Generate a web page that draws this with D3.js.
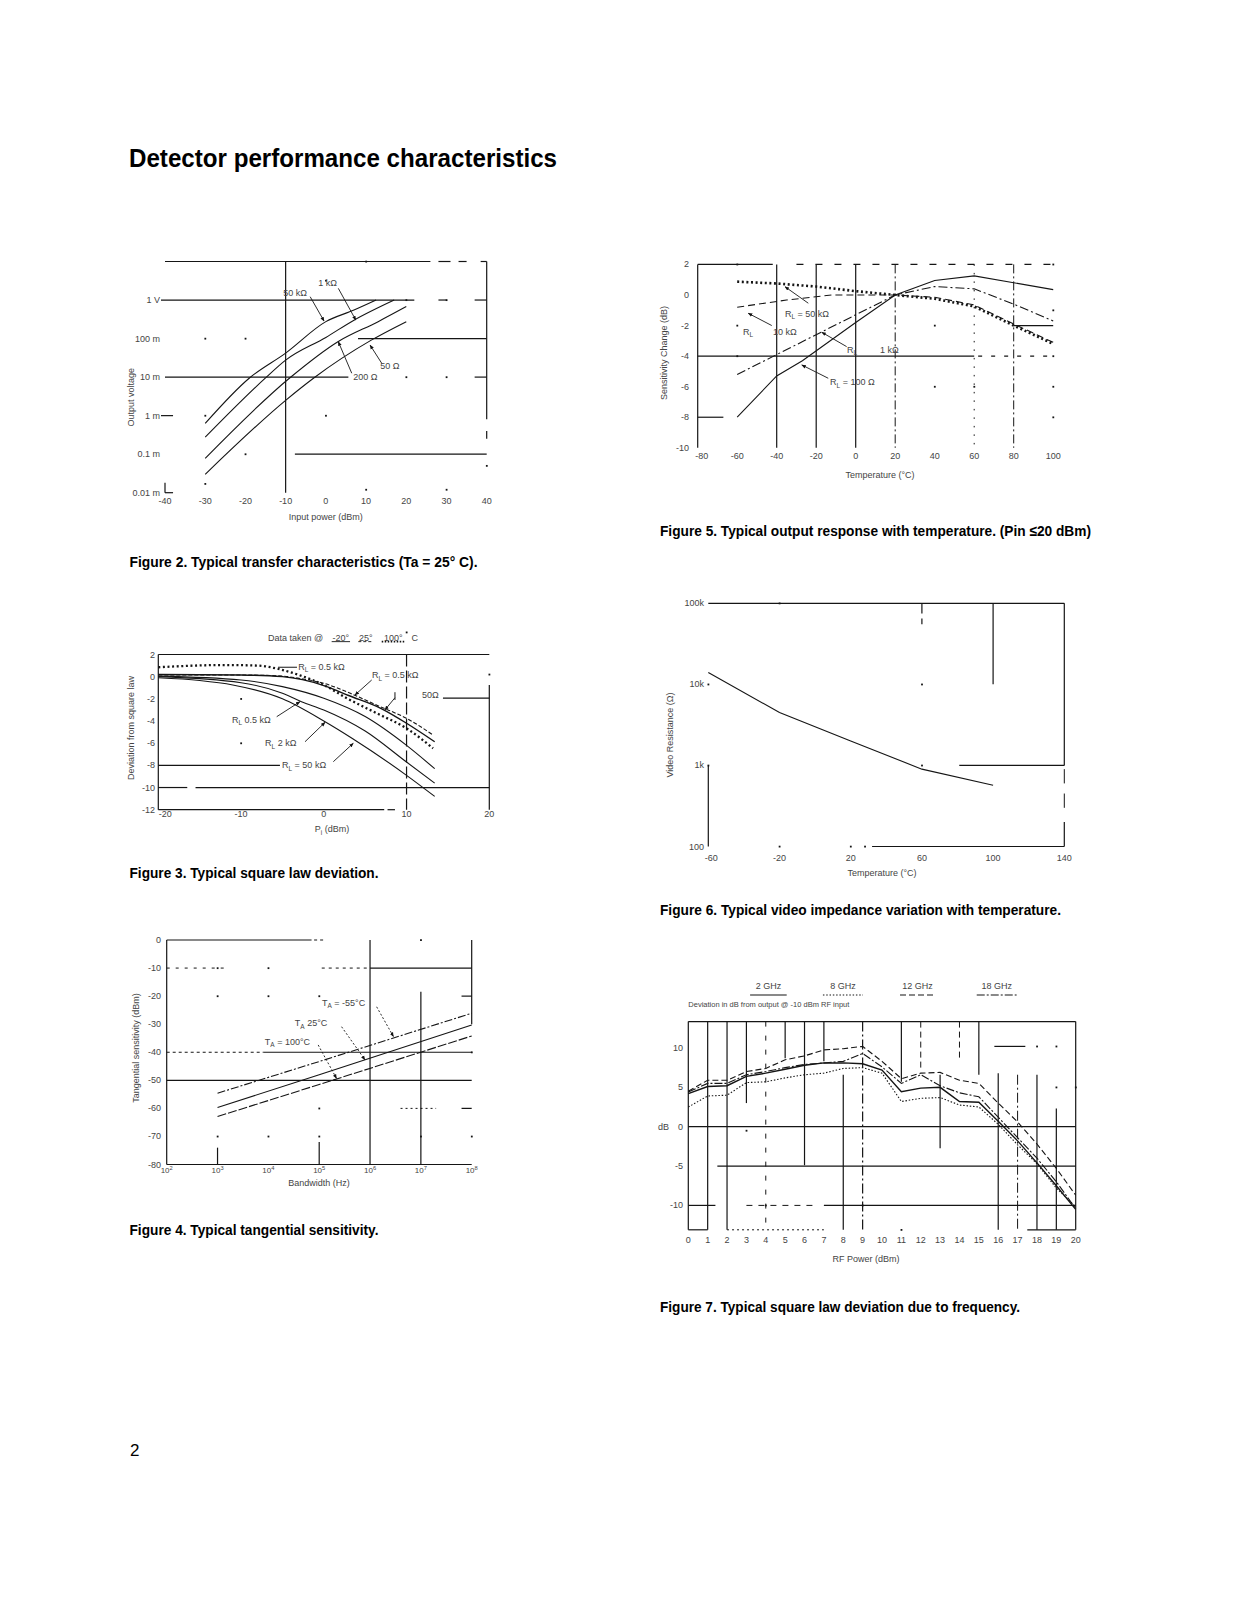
<!DOCTYPE html>
<html><head><meta charset="utf-8">
<script src="https://cdn.jsdelivr.net/npm/d3@7"></script>
<style>body{margin:0;background:#fff} svg text{font-family:"Liberation Sans",Arial,sans-serif}</style>
</head><body>
<script>
// ================= DATA =================
// Figure 2 – transfer characteristics (input dBm, output V)
const fig2XTicks = [-40,-30,-20,-10,0,10,20,30,40];
const fig2YTicks = [1,0.1,0.01,0.001,0.0001,0.00001];
const fig2YTickLabels = ["1 V","100 m","10 m","1 m","0.1 m","0.01 m"];
const fig2Curve50k = [[-30,6.3e-4],[-19,9.5e-3],[-10,0.042],[0,0.275],[7,0.55],[12.5,1.0]];
const fig2Curve1k  = [[-30,2.75e-4],[-15,9.5e-3],[-10,0.0275],[0,0.107],[7,0.30],[17,1.0]];
const fig2Curve200 = [[-30,7.8e-5],[-9,9.5e-3],[3,0.083],[13,0.275],[20,0.676]];
const fig2Curve50  = [[-30,3.0e-5],[-10,2.5e-3],[-3,9.5e-3],[11.3,0.091],[20,0.275]];

// Figure 5 – sensitivity change vs temperature
const fig5XTicks = [-80,-60,-40,-20,0,20,40,60,80,100];
const fig5YTicks = [2,0,-2,-4,-6,-8,-10];
const fig5R100  = [[-60,-8],[-40,-5.3],[-27,-4.3],[0,-1.8],[20,0],[40,0.95],[60,1.25],[100,0.35]];
const fig5R1k   = [[-60,-5.2],[-40,-3.9],[-20,-2.6],[0,-1.3],[20,0],[40,0.55],[60,0.4],[80,-0.6],[100,-1.7]];
const fig5R10k  = [[-60,-0.8],[-35,-0.33],[-12,0],[20,0],[40,-0.15],[60,-0.65],[80,-1.9],[100,-3.1]];
const fig5R50k  = [[-60,0.87],[-40,0.75],[-20,0.55],[0,0.25],[20,0],[40,-0.25],[60,-0.75],[80,-2.0],[100,-3.2]];

// Figure 3 – square law deviation
const fig3XTicks = [-20,-10,0,10,20];
const fig3YTicks = [2,0,-2,-4,-6,-8,-10,-12];
const fig3Dashed = [[-20,0.15],[-10,0.15],[-5,0.05],[-3,-0.15],[0,-0.6],[3.2,-1.5],[6.8,-2.7],[10,-3.76],[13.2,-5.26]];
const fig3Solid1 = [[-20,0.2],[-10,0.15],[-5,0],[0,-0.8],[3,-1.7],[7,-2.9],[10,-4.2],[13.4,-5.87]];
const fig3Dotted = [[-20,0.85],[-12,1.05],[-8,1.0],[-5.5,0.7],[-3,0.15],[0,-0.75],[2.8,-1.95],[6.4,-3.3],[10,-4.66],[13.2,-6.46]];
const fig3Solid2 = [[-20,0.05],[-10,-0.3],[-5,-0.9],[0,-1.95],[5,-3.6],[10,-6.2],[13.4,-8.3]];
const fig3Solid3 = [[-20,0],[-10,-0.55],[-5,-1.5],[-2.7,-2.26],[0,-3.0],[5,-4.9],[10,-7.7],[13.4,-9.6]];
const fig3Solid4 = [[-20,-0.1],[-15,-0.35],[-11,-0.75],[-5,-2.0],[0,-4.0],[3.5,-5.6],[10,-8.9],[13.4,-10.8]];

// Figure 6 – video resistance vs temperature
const fig6XTicks = [-60,-20,20,60,100,140];
const fig6YTicks = [100000,10000,1000,100];
const fig6YTickLabels = ["100k","10k","1k","100"];
const fig6Temp = [-60,-20,20,60,100];
const fig6Res  = [14000,4500,2000,900,570];

// Figure 4 – tangential sensitivity
const fig4XTicks = [1e2,1e3,1e4,1e5,1e6,1e7,1e8];
const fig4XExp = ["2","3","4","5","6","7","8"];
const fig4YTicks = [0,-10,-20,-30,-40,-50,-60,-70,-80];
const fig4BW = [1e3,1e5,1e8];
const fig4Minus55 = [-54.6,-43.3,-26.1];
const fig4At25 = [-59.7,-48.0,-30.3];
const fig4At100 = [-62.9,-51.5,-34.2];

// Figure 7 – square law deviation vs frequency
const fig7Power = [0,1,2,3,4,5,6,7,8,9,10,11,12,13,14,15,16,17,18,19,20];
const fig7YTicks = [10,5,0,-5,-10];
const fig7G2  = [4.2,5.1,5.2,6.4,6.8,7.3,7.8,8.1,8.1,8.0,7.2,4.45,4.9,5.0,3.2,3.1,0.7,-1.8,-4.6,-7.5,-10.5];
const fig7G8  = [2.5,3.9,4.0,5.6,5.7,6.2,6.6,6.8,7.4,7.5,6.8,3.2,3.6,3.7,2.75,2.5,0.3,-2.3,-4.7,-7.8,-10.2];
const fig7G12 = [4.5,5.9,5.9,7.0,7.4,8.5,9.0,9.75,9.9,10.2,8.3,6.1,6.8,6.9,5.9,5.5,3.0,0.6,-2.2,-5.3,-8.7];
const fig7G18 = [4.4,5.5,5.5,6.6,7.0,7.5,7.9,8.1,8.3,9.3,7.6,5.5,6.6,5.2,4.3,3.8,1.2,-1.4,-4.0,-7.0,-10.4];
const fig7Legend = ["2 GHz","8 GHz","12 GHz","18 GHz"];

// ================= DRAWING =================
const W=1237,H=1600;
const svg=d3.select("body").append("svg").attr("width",W).attr("height",H);
svg.append("rect").attr("width",W).attr("height",H).attr("fill","#fff");
svg.append("defs").append("marker").attr("id","ah").attr("viewBox","0 0 10 10")
  .attr("refX",9).attr("refY",5).attr("markerWidth",5).attr("markerHeight",5).attr("orient","auto")
  .append("path").attr("d","M0,1L10,5L0,9z").attr("fill","#111");
const INK="#151515", TXT="#444";
const NARROW="'Liberation Sans Narrow','Arial Narrow','Liberation Sans',sans-serif";

function L(g,x1,y1,x2,y2,o={}){
  return g.append("line").attr("x1",x1).attr("y1",y1).attr("x2",x2).attr("y2",y2)
    .attr("stroke",o.c||INK).attr("stroke-width",o.w||1.2)
    .attr("stroke-dasharray",o.dash||null).attr("marker-end",o.arrow?"url(#ah)":null);
}
function T(g,parts,x,y,o={}){
  const size=o.size||9;
  const t=g.append("text").attr("x",x).attr("y",y).attr("font-size",size)
    .attr("fill",o.c||TXT).attr("text-anchor",o.anchor||"start");
  if(o.rotate) t.attr("transform",`rotate(${o.rotate},${x},${y})`);
  if(o.weight) t.attr("font-weight",o.weight);
  if(o.family) t.style("font-family",o.family);
  if(o.len) t.attr("textLength",o.len).attr("lengthAdjust","spacingAndGlyphs");
  let cur=0;
  (typeof parts==="string"?[[parts]]:parts).forEach(p=>{
    const off=p[1]==="sub"?2.5:p[1]==="sup"?-3.5:0;
    const s=t.append("tspan").text(p[0]);
    if(off!==cur) s.attr("dy",off-cur);
    cur=off;
    if(p[1]) s.attr("font-size",size*0.72);
  });
  return t;
}
const Hl=(g,x,y,v,a,b,o={})=>L(g,x(a),y(v),x(b),y(v),o);
const Vl=(g,x,y,v,a,b,o={})=>L(g,x(v),y(a),x(v),y(b),o);
const Ar=(g,x,y,a,b,o={})=>L(g,x(a[0]),y(a[1]),x(b[0]),y(b[1]),Object.assign({w:0.9,arrow:true},o));
const dot=(g,x,y,a,b)=>g.append("rect").attr("x",x(a)-0.8).attr("y",y(b)-0.8).attr("width",1.8).attr("height",1.8).attr("fill",INK);
function curve(g,x,y,data,o={}){
  g.append("path").datum(data).attr("fill","none").attr("stroke",INK)
   .attr("stroke-width",o.w||1.1).attr("stroke-dasharray",o.dash||null)
   .attr("d",d3.line().x(d=>x(d[0])).y(d=>y(d[1])).curve(o.curve||d3.curveLinear));
}

// ---------- Title, captions ----------
T(svg,"Detector performance characteristics",129,167,{size:25,weight:"bold",family:NARROW,len:428,c:"#000"});
const cap=(s,x,y,len)=>T(svg,s,x,y,{size:15,weight:"bold",family:NARROW,len:len,c:"#000"});
cap("Figure 2. Typical transfer characteristics (Ta = 25° C).",129.5,567,348);
cap("Figure 5. Typical output response with temperature. (Pin ≤20 dBm)",660,535.5,431);
cap("Figure 3. Typical square law deviation.",129.5,877.5,249);
cap("Figure 6. Typical video impedance variation with temperature.",660,915,401);
cap("Figure 4. Typical tangential sensitivity.",129.5,1234.5,249);
cap("Figure 7. Typical square law deviation due to frequency.",660,1312,360);
T(svg,"2",130,1456,{size:17,family:NARROW,c:"#000"});

// ---------- Figure 2 ----------
{
const g=svg.append("g");
const x=d3.scaleLinear().domain([-40,40]).range([165,486.7]);
const y=d3.scaleLog().domain([1e-5,10]).range([492.7,261.5]);
Hl(g,x,y,10,-40,26); Hl(g,x,y,10,28,31); Hl(g,x,y,10,33,35);
Hl(g,x,y,1,-41,22); Hl(g,x,y,1,28,30); Hl(g,x,y,1,37,40);
Hl(g,x,y,0.1,8,40);
Hl(g,x,y,0.01,-40,5.6); Hl(g,x,y,0.01,37,40);
Hl(g,x,y,1e-4,-7.7,40);
Hl(g,x,y,1e-3,-41,-38);
Vl(g,x,y,-10,1e-5,10);
Vl(g,x,y,40,8e-4,10); Vl(g,x,y,40,2.5e-4,4e-4);
Hl(g,x,y,10,38.5,40);
Vl(g,x,y,-40,1e-5,1.8e-5); Hl(g,x,y,1e-5,-40,-38);
[[-30,0.1],[-20,0.1],[0,3.2],[10,10],[-30,1e-3],[0,1e-3],[-20,1e-4],[20,0.01],[30,0.01],[-30,1.7e-5],[30,1.2e-5],[10,1.2e-5],[20,1],[30,1],[40,5e-5]]
  .forEach(p=>dot(g,x,y,p[0],p[1]));
curve(g,x,y,fig2Curve50k,{curve:d3.curveMonotoneX});
curve(g,x,y,fig2Curve1k,{curve:d3.curveMonotoneX});
curve(g,x,y,fig2Curve200,{curve:d3.curveMonotoneX});
curve(g,x,y,fig2Curve50,{curve:d3.curveMonotoneX});
fig2XTicks.forEach(v=>T(g,String(v),x(v),504,{anchor:"middle"}));
fig2YTicks.forEach((v,i)=>T(g,fig2YTickLabels[i],160,y(v)+3,{anchor:"end"}));
T(g,"Input power (dBm)",x(0),520,{anchor:"middle"});
T(g,"Output voltage",134,y(0.003),{anchor:"middle",rotate:-90});
T(g,"50 kΩ",x(-10.6),y(1.55)+3);
Ar(g,x,y,[-3.9,1.22],[-0.45,0.285]);
T(g,"1 kΩ",x(-1.9),y(2.76)+3);
Ar(g,x,y,[3.1,2.01],[7.44,0.303]);
T(g,"200 Ω",x(6.8),y(0.0102)+3);
Ar(g,x,y,[6.44,0.0126],[3.1,0.0829]);
T(g,"50 Ω",x(13.5),y(0.0194)+3);
Ar(g,x,y,[13.9,0.0228],[11.0,0.0677]);
}

// ---------- Figure 5 ----------
{
const g=svg.append("g");
const x=d3.scaleLinear().domain([-80,100]).range([697.7,1053.2]);
const y=d3.scaleLinear().domain([-10,2]).range([447.8,264.4]);
Hl(g,x,y,2,-80,-42); Hl(g,x,y,2,-30,100,{dash:"7,12"});
Vl(g,x,y,-80,2,-10);
[-40,-20,0].forEach(v=>Vl(g,x,y,v,2,-10));
Vl(g,x,y,20,2,-10,{dash:"9,3,2,3",w:1});
Vl(g,x,y,60,2,-10,{dash:"1.5,7",w:1});
Vl(g,x,y,80,2,-10,{dash:"9,3,2,3",w:1});
Hl(g,x,y,-4,-80,60); Hl(g,x,y,-4,62,100,{dash:"4,9"});
Hl(g,x,y,-8,-80,-67);
Hl(g,x,y,-2,80,100);
[[100,2],[100,-4],[100,-6],[100,-8],[-60,2],[40,-2],[40,-6],[60,-6],[-60,-2],[-60,-4],[100,-1]].forEach(p=>dot(g,x,y,p[0],p[1]));
curve(g,x,y,fig5R100,{w:1.1});
curve(g,x,y,fig5R1k,{w:1.1,dash:"9,3,2,3"});
curve(g,x,y,fig5R10k,{w:1.1,dash:"7,4"});
curve(g,x,y,fig5R50k,{w:2.6,dash:"2,2.6"});
fig5XTicks.forEach(v=>T(g,String(v),x(v)+(v===-80?4:0),459,{anchor:"middle"}));
fig5YTicks.forEach(v=>T(g,String(v),689,y(v)+3,{anchor:"end"}));
T(g,"Temperature (°C)",880,478,{anchor:"middle"});
T(g,"Sensitivity Change (dB)",667,353,{anchor:"middle",rotate:-90});
T(g,[["R"],["L","sub"],[" = 50 kΩ"]],x(-35.8),y(-1.24)+3);
Ar(g,x,y,[-24,-0.54],[-35.8,0.54]);
T(g,[["R"],["L","sub"]],x(-57.1),y(-2.42)+3);
T(g,"10 kΩ",x(-41.9),y(-2.42)+3);
Ar(g,x,y,[-42.5,-2.0],[-54.4,-1.2]);
T(g,[["R"],["L","sub"]],x(-4.4),y(-3.6)+3);
T(g,"1 kΩ",x(12.3),y(-3.6)+3);
Ar(g,x,y,[-4.6,-3.38],[-17.2,-2.44]);
T(g,[["R"],["L","sub"],[" = 100 Ω"]],x(-13),y(-5.71)+3);
Ar(g,x,y,[-13.9,-5.45],[-27.3,-4.58]);
}

// ---------- Figure 3 ----------
{
const g=svg.append("g");
const x=d3.scaleLinear().domain([-20,20]).range([158.3,489.3]);
const y=d3.scaleLinear().domain([-12,2]).range([809.7,654.5]);
Hl(g,x,y,2,-20,20);
Vl(g,x,y,-20,2,-12);
Hl(g,x,y,-8,-20,-5.3);
Hl(g,x,y,-10,-20,-16.5); Hl(g,x,y,-10,-15.5,20);
Hl(g,x,y,-12,-20,7.3); Hl(g,x,y,-12,7.7,8.6);
Vl(g,x,y,10,2,-12,{dash:"12,4"});
Vl(g,x,y,20,-0.75,-12); dot(g,x,y,20,0.2);
Hl(g,x,y,-1.94,14.4,20);
[[-10,-2],[-10,-6],[10,4]].forEach(p=>dot(g,x,y,p[0],p[1]));
curve(g,x,y,fig3Solid4,{curve:d3.curveMonotoneX});
curve(g,x,y,fig3Solid3,{curve:d3.curveMonotoneX});
curve(g,x,y,fig3Solid2,{curve:d3.curveMonotoneX});
curve(g,x,y,fig3Solid1,{curve:d3.curveMonotoneX,w:1.4});
curve(g,x,y,fig3Dashed,{curve:d3.curveMonotoneX,dash:"4,2"});
curve(g,x,y,fig3Dotted,{curve:d3.curveMonotoneX,w:2.3,dash:"2,2.6"});
fig3XTicks.forEach(v=>T(g,String(v),x(v)+(v===-20?7:0),817,{anchor:"middle"}));
fig3YTicks.forEach(v=>T(g,String(v),155,y(v)+3,{anchor:"end"}));
T(g,[["P"],["i","sub"],[" (dBm)"]],332,832,{anchor:"middle"});
T(g,"Deviation from square law",134,728,{anchor:"middle",rotate:-90});
// legend
T(g,"Data taken @",x(-6.74),y(3.47)+3);
T(g,"-20°",x(2.06),y(3.47)+3,{anchor:"middle"}); Hl(g,x,y,3.16,0.95,3.17,{w:0.9});
T(g,"25°",x(5.07),y(3.47)+3,{anchor:"middle"}); Hl(g,x,y,3.16,4.17,5.98,{w:0.9,dash:"3,2"});
T(g,"100°",x(8.4),y(3.47)+3,{anchor:"middle"}); Hl(g,x,y,3.16,7.0,9.8,{w:1.6,dash:"1.5,1.5"});
T(g,"C",x(10.6),y(3.47)+3);
Hl(g,x,y,0.85,-5.53,-3.24,{w:1});
T(g,[["R"],["L","sub"],[" = 0.5 kΩ"]],x(-3.1),y(0.9)+3);
T(g,[["R"],["L","sub"],[" = 0.5 kΩ"]],x(5.82),y(0.15)+3);
Ar(g,x,y,[5.79,-0.3],[3.77,-1.65]);
Vl(g,x,y,8.6,-1.4,-2.1,{w:1});
Ar(g,x,y,[8.6,-1.9],[7.39,-3.0]);
T(g,"50Ω",x(11.87),y(-1.65)+3);
T(g,[["R"],["L","sub"],["  0.5 kΩ"]],x(-11.1),y(-3.9)+3);
Ar(g,x,y,[-5.69,-3.61],[-2.88,-2.26]);
T(g,[["R"],["L","sub"],["  2 kΩ"]],x(-7.1),y(-6.0)+3);
Ar(g,x,y,[-2.27,-5.87],[0.15,-4.12]);
T(g,[["R"],["L","sub"],[" = 50 kΩ"]],x(-5.05),y(-7.97)+3);
Ar(g,x,y,[1.15,-7.67],[3.56,-6.01]);
}

// ---------- Figure 6 ----------
{
const g=svg.append("g");
const x=d3.scaleLinear().domain([-60,140]).range([708.3,1064.3]);
const y=d3.scaleLog().domain([100,100000]).range([846.5,603.3]);
Hl(g,x,y,100000,-60,140);
Vl(g,x,y,140,100000,1000); Vl(g,x,y,140,900,600,{w:1}); Vl(g,x,y,140,450,300,{w:1}); Vl(g,x,y,140,200,100);
Vl(g,x,y,100,100000,10000);
Hl(g,x,y,1000,81,140);
Hl(g,x,y,100,32,140);
Vl(g,x,y,-60,1000,100);
Vl(g,x,y,60,100000,75000); Vl(g,x,y,60,65000,55000);
[[-20,100000],[60,10000],[60,1000],[-20,100],[20,100],[28,100],[-60,10000],[-60,1000]].forEach(p=>dot(g,x,y,p[0],p[1]));
curve(g,x,y,fig6Temp.map((t,i)=>[t,fig6Res[i]]),{w:1.1});
fig6XTicks.forEach(v=>T(g,String(v),x(v)+(v===-60?3:0),861,{anchor:"middle"}));
fig6YTicks.forEach((v,i)=>T(g,fig6YTickLabels[i],704,y(v)+3,{anchor:"end"}));
T(g,"Temperature (°C)",882,876,{anchor:"middle"});
T(g,"Video Resistance (Ω)",673,735,{anchor:"middle",rotate:-90});
}

// ---------- Figure 4 ----------
{
const g=svg.append("g");
const x=d3.scaleLog().domain([1e2,1e8]).range([166.7,471.7]);
const y=d3.scaleLinear().domain([-80,0]).range([1164.5,940]);
Hl(g,x,y,0,1e2,Math.pow(10,4.85)); Hl(g,x,y,0,Math.pow(10,4.9),Math.pow(10,5.1),{dash:"3,3"});
Vl(g,x,y,1e2,0,-80);
Vl(g,x,y,1e8,0,-30);
Vl(g,x,y,1e6,0,-80);
Vl(g,x,y,1e7,-18.4,-80);
Hl(g,x,y,-10,1e2,Math.pow(10,3.2),{dash:"3,6",w:1}); Hl(g,x,y,-10,Math.pow(10,5.05),1e6,{dash:"3,4",w:1}); Hl(g,x,y,-10,1e6,1e8);
Hl(g,x,y,-40,1e2,Math.pow(10,3.9),{dash:"3,3",w:1}); Hl(g,x,y,-40,Math.pow(10,3.9),1e8);
Hl(g,x,y,-50,1e2,1e8);
Hl(g,x,y,-80,1e2,1e8);
Vl(g,x,y,1e3,-74,-80); Vl(g,x,y,1e5,-72,-80);
Hl(g,x,y,-20,Math.pow(10,7.8),1e8);
Hl(g,x,y,-60,Math.pow(10,6.6),Math.pow(10,7.3),{dash:"2,3",w:1}); Hl(g,x,y,-60,Math.pow(10,7.8),1e8);
[[1e3,-10],[1e4,-10],[1e3,-20],[1e4,-20],[1e5,-60],[1e3,-70],[1e4,-70],[1e5,-70],[1e7,-70],[1e8,-70],[1e8,-40],[1e7,0],[1e5,-20]].forEach(p=>dot(g,x,y,p[0],p[1]));
curve(g,x,y,fig4BW.map((b,i)=>[b,fig4Minus55[i]]),{dash:"8,2,2,2"});
curve(g,x,y,fig4BW.map((b,i)=>[b,fig4At25[i]]));
curve(g,x,y,fig4BW.map((b,i)=>[b,fig4At100[i]]),{dash:"9,2"});
fig4XTicks.forEach((v,i)=>T(g,[["10"],[fig4XExp[i],"sup"]],x(v),1173,{anchor:"middle",size:8}));
fig4YTicks.forEach(v=>T(g,String(v),161,y(v)+3,{anchor:"end"}));
T(g,"Bandwidth (Hz)",319,1186,{anchor:"middle"});
T(g,"Tangential sensitivity (dBm)",139,1048,{anchor:"middle",rotate:-90});
T(g,[["T"],["A","sub"],[" = -55°C"]],x(Math.pow(10,5.055)),y(-22.4)+3);
Ar(g,x,y,[Math.pow(10,6.13),-23.8],[Math.pow(10,6.46),-34.4],{dash:"2,2"});
T(g,[["T"],["A","sub"],["  25°C"]],x(Math.pow(10,4.52)),y(-29.6)+3);
Ar(g,x,y,[Math.pow(10,5.44),-30.9],[Math.pow(10,5.9),-42.7],{dash:"2,2"});
T(g,[["T"],["A","sub"],[" = 100°C"]],x(Math.pow(10,3.93)),y(-36.2)+3);
Ar(g,x,y,[Math.pow(10,4.98),-37.4],[Math.pow(10,5.34),-49.3],{dash:"2,2"});
}

// ---------- Figure 7 ----------
{
const g=svg.append("g");
const x=d3.scaleLinear().domain([0,20]).range([688.3,1075.7]);
const y=d3.scaleLinear().domain([-13.1,13.35]).range([1229.8,1021.6]);
const top=13.35, bot=-13.1;
Hl(g,x,y,top,0,20);
Vl(g,x,y,0,top,bot);
Hl(g,x,y,0,0,20);
Hl(g,x,y,-5,1.5,20);
Hl(g,x,y,-10,0,1.4); Hl(g,x,y,-10,3,6.5,{dash:"6,6",w:1}); Hl(g,x,y,-10,7,20);
Hl(g,x,y,bot,0,1); Hl(g,x,y,bot,2,7,{dash:"2,3",w:1}); Hl(g,x,y,bot,17.5,20);
const vs=[[1,top,bot],[2,top,bot],[3,top,3],[5,top,8.7],[6,top,-4.9],[7,top,8.3],[8,6.6,bot],[11,top,5.7],[13,6.6,-2.75],[15,top,6.6],[16,6.8,bot],[18,6.6,bot],[19,2.3,bot],[20,top,bot]];
vs.forEach(v=>Vl(g,x,y,v[0],v[1],v[2]));
Vl(g,x,y,4,top,bot,{dash:"5,9",w:1});
Vl(g,x,y,9,top,bot,{dash:"10,3,2,3"});
Vl(g,x,y,12,top,7,{dash:"6,4",w:1});
Vl(g,x,y,14,top,8.7,{dash:"6,4",w:1});
Vl(g,x,y,17,6.6,bot,{dash:"10,3,2,3",w:1});
Hl(g,x,y,10.2,15.8,17.4);
[[18,10.2],[19,10.2],[3,-0.5],[19,5],[20,5],[4,-10],[9,-10],[11,-13.1]].forEach(p=>dot(g,x,y,p[0],p[1]));
const pts=a=>fig7Power.map((p,i)=>[p,a[i]]);
curve(g,x,y,pts(fig7G8),{dash:"1.5,1.8"});
curve(g,x,y,pts(fig7G18),{dash:"8,2,2,2"});
curve(g,x,y,pts(fig7G12),{dash:"6,3"});
curve(g,x,y,pts(fig7G2),{w:1.4});
// legend
const lx=[[3.19,5.08],[6.95,9.02],[10.93,12.74],[14.89,16.95]];
const ld=[null,"1.5,1.8","6,3","8,2,2,2"];
fig7Legend.forEach((s,i)=>{
  T(g,s,x((lx[i][0]+lx[i][1])/2),y(17.43),{anchor:"middle"});
  Hl(g,x,y,16.73,lx[i][0],lx[i][1],{w:1.1,dash:ld[i]});
});
T(g,"Deviation in dB from output @ -10 dBm RF input",x(0),y(15.25),{size:7.5});
fig7Power.forEach(v=>T(g,String(v),x(v),1243,{anchor:"middle"}));
fig7YTicks.forEach(v=>T(g,String(v),683,y(v)+3,{anchor:"end"}));
T(g,"dB",669,y(0)+3,{anchor:"end"});
T(g,"RF Power (dBm)",866,1262,{anchor:"middle"});
}
</script>
</body></html>
